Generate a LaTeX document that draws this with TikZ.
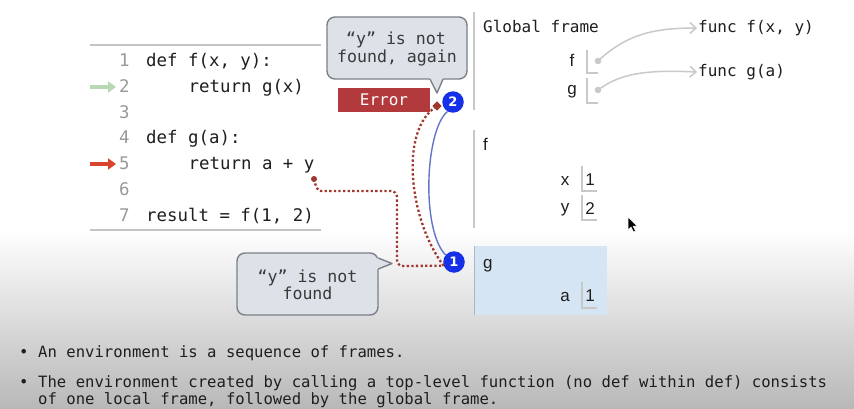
\documentclass[tikz,border=0pt]{standalone}
\usepackage{fontspec}
\setmainfont{Liberation Sans}
\setmonofont{DejaVu Sans Mono}
\newfontfamily\sansfont{DejaVu Sans}
\usetikzlibrary{arrows.meta,calc}
\definecolor{codeink}{HTML}{1E1E1E}
\definecolor{lineno}{HTML}{9A9A9A}
\definecolor{rulegray}{HTML}{C4C4C4}
\definecolor{framegray}{HTML}{C8C8C8}
\definecolor{bubfill}{HTML}{DDE2E8}
\definecolor{bubline}{HTML}{7C8086}
\definecolor{bubink}{HTML}{3A3A3A}
\definecolor{errred}{HTML}{B23A3D}
\definecolor{badgeblue}{HTML}{1530E6}
\definecolor{linkblue}{HTML}{6375C8}
\definecolor{dotred}{HTML}{A0382F}
\definecolor{gfill}{HTML}{D6E5F4}
\definecolor{gedge}{HTML}{A8B6C6}
\definecolor{ptrgray}{HTML}{C9C9C9}
\definecolor{pastgreen}{HTML}{B7D8B2}
\definecolor{nowred}{HTML}{D9442E}
\definecolor{bottomgray}{HTML}{B8B8B8}
\tikzset{
  codetxt/.style={anchor=base west, inner sep=0, text=codeink, font=\fontsize{17.4}{20}\ttfamily},
  lnum/.style={anchor=base west, inner sep=0, text=lineno, font=\fontsize{17.4}{20}\ttfamily},
  frametitle/.style={anchor=base west, inner sep=0, text=codeink, font=\fontsize{16}{18}\ttfamily},
  varname/.style={anchor=base, inner sep=0, text=codeink, font=\fontsize{17}{19}\selectfont},
  bubtxt/.style={anchor=base, inner sep=0, text=bubink, font=\fontsize{16.6}{17.5}\ttfamily},
  bubshape/.style={fill=bubfill, draw=bubline, line width=1.4pt, rounded corners=8pt},
  badge/.style={circle, fill=badgeblue, text=white, inner sep=0, minimum size=21.5pt, font=\fontsize{13}{13}\sansfont\bfseries},
  reddots/.style={draw=dotred, line width=2.3pt, dash pattern=on 2.3pt off 2.3pt},
  bluelink/.style={draw=linkblue, line width=1.4pt},
  ptr/.style={draw=ptrgray, line width=1.5pt, -{Straight Barb[length=6pt,width=11pt,line width=1.5pt]}},
  framerule/.style={draw=framegray, line width=1.8pt},
  valbox/.style={draw=framegray, line width=1.4pt},
  bigarrow/.style={line width=3.6pt, -{Triangle[length=8pt,width=11pt]}},
  bullettxt/.style={anchor=base west, inner sep=0, text=codeink, font=\fontsize{15.6}{17}\ttfamily},
}
\begin{document}
\begin{tikzpicture}[x=1pt,y=-1pt]
\useasboundingbox (0,0) rectangle (854,409);
% background
\fill[white] (0,0) rectangle (854,409);
\shade[top color=white, bottom color=bottomgray] (0,230) rectangle (854,409);

% code listing
\draw[rulegray, line width=1.8pt] (90,45) -- (321,45);
\draw[rulegray, line width=1.8pt] (90,230) -- (321,230);
\foreach \n/\yy in {1/67,2/92.7,3/118.3,4/144,5/169.7,6/195.3,7/221}{
  \node[lnum] (ln\n) at (119,\yy) {\n};
}
\node[codetxt] (l1) at (146,67) {def f(x, y):};
\node[codetxt] (l2) at (188.5,92.7) {return g(x)};
\node[codetxt] (l4) at (146,144) {def g(a):};
\node[codetxt] (l5) at (188.5,169.7) {return a + y};
\node[codetxt] (l7) at (146,221) {result = f(1, 2)};
\coordinate (ga0) at (90,87);
\coordinate (ga1) at (116,87);
\draw[bigarrow, pastgreen] (ga0) -- (ga1);
\coordinate (ra0) at (90,164);
\coordinate (ra1) at (116,164);
\draw[bigarrow, nowred] (ra0) -- (ra1);

% top bubble
\draw[bubshape] (327,17) rectangle (467,79);
\fill[bubfill] (429.5,77.5) -- (437,92) -- (443.5,77.5) -- cycle;
\draw[bubline, line width=1.4pt, line join=round] (430,79.2) -- (437,93) -- (443,79.2);
\node[bubtxt] (bubtop1) at (396,45) {“y” is not};
\node[bubtxt] (bubtop2) at (397,63) {found, again};

% error box
\node[fill=errred, text=white, minimum width=92pt, minimum height=24pt, inner sep=0,
      font=\fontsize{16}{18}\ttfamily] (err) at (384,100) {Error};

% bottom bubble
\draw[bubshape] (237,253) rectangle (378,315);
\fill[bubfill] (376.5,257.5) -- (392,263.5) -- (376.5,269.5) -- cycle;
\draw[bubline, line width=1.4pt, line join=round] (378.2,258) -- (392,263.5) -- (378.2,269);
\node[bubtxt] (bubbot1) at (307.5,282) {“y” is not};
\node[bubtxt] (bubbot2) at (307.5,299) {found};

% global frame
\draw[framerule] (474,12) -- (474,110);
\node[frametitle] (gtitle) at (483,33) {Global frame};
\node[varname] (gf) at (572,67) {f};
\node[varname] (gg) at (572,95) {g};
\draw[valbox] (587,50) -- (587,73) -- (598,73);
\draw[valbox] (587,78) -- (587,103) -- (598,103);
\coordinate (fdot) at (598,61);
\coordinate (gdot) at (598,90);
\fill[ptrgray] (fdot) circle (3.3pt);
\fill[ptrgray] (gdot) circle (3.3pt);
\node[frametitle] (funcf) at (698,33) {func f(x, y)};
\node[frametitle] (funcg) at (698,77) {func g(a)};
\coordinate (ff) at (697,28);
\coordinate (fg) at (697,72);
\draw[ptr] (fdot) .. controls (625,36) and (650,28) .. (ff);
\draw[ptr] (gdot) .. controls (622,72) and (650,70) .. (fg);

% f frame
\draw[framerule] (474,130) -- (474,228);
\node[varname, anchor=base west] (fname) at (483,150) {f};
\node[varname] (fx) at (565,185) {x};
\draw[valbox] (582,166) -- (582,191) -- (597,191);
\node[varname] (fx1) at (590,185) {1};
\node[varname] (fy) at (565,212) {y};
\draw[valbox] (582,195) -- (582,220) -- (597,220);
\node[varname] (fy2) at (590,214) {2};

% g frame
\fill[gfill] (474,246) rectangle (607,315);
\draw[gedge, line width=1.6pt] (474.5,246) -- (474.5,315);
\node[varname, anchor=base west] (gname) at (483,268) {g};
\node[varname] (ga) at (565,301) {a};
\draw[valbox] (582,282) -- (582,308) -- (597,308);
\node[varname] (ga1v) at (590,301) {1};

% badges
\node[badge] (c2) at (453,102) {2};
\node[badge] (c1) at (454,262) {1};

% links
\draw[bluelink] (c2.240) .. controls (425,130) and (421,230) .. (c1.140);
\coordinate (ydot) at (314,179);
\coordinate (sq) at (437,106);
\draw[reddots, rounded corners=6pt] (ydot) .. controls (316,188) and (318,191) .. (327,191) -- (397,191) -- (397,266) -- (c1.200);
\draw[reddots] (c1.200) .. controls (410,222) and (398,130) .. (sq);
\fill[dotred] (ydot) circle (3pt);
\fill[dotred, rotate around={45:(sq)}] ($(sq)+(-3.2,-3.2)$) rectangle ($(sq)+(3.2,3.2)$);

% mouse pointer
\filldraw[fill=black, draw=white, line width=0.5pt] (628,217) -- (628,230) -- (631,227) -- (633.5,232) -- (635.5,231) -- (633,226) -- (637,226) -- cycle;

% bullets
\node[bullettxt] (b1dot) at (19,357) {•};
\node[bullettxt] (b1) at (38,357) {An environment is a sequence of frames.};
\node[bullettxt] (b2dot) at (19,387) {•};
\node[bullettxt] (b2) at (38,387) {The environment created by calling a top-level function (no def within def) consists};
\node[bullettxt] (b3) at (38,404) {of one local frame, followed by the global frame.};
\end{tikzpicture}
\end{document}
